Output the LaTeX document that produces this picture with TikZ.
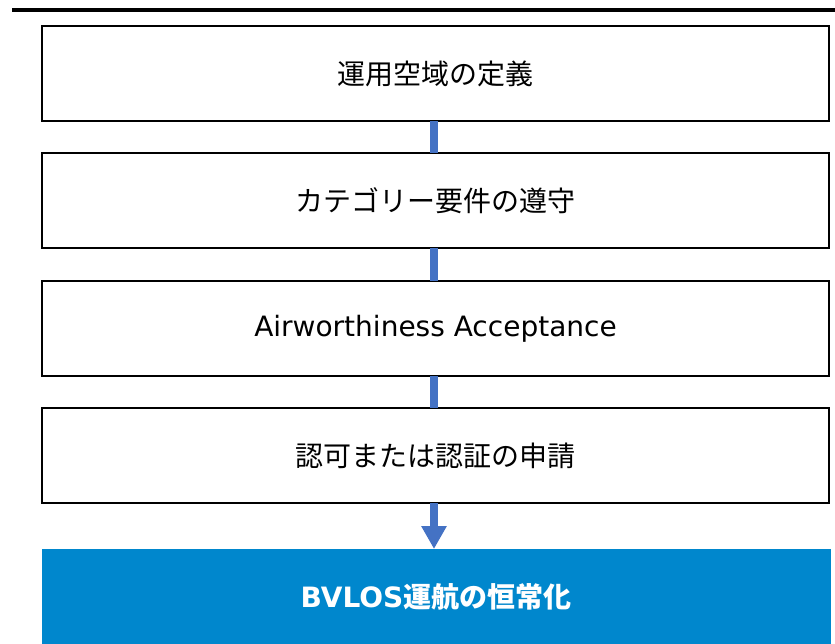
\documentclass[tikz,border=0pt]{standalone}
\usepackage{fontspec}
\setmainfont{DejaVu Sans}
\newfontfamily\jp{Noto Sans CJK JP}
\usetikzlibrary{arrows.meta}
\definecolor{linkblue}{HTML}{4472C4}
\definecolor{goalblue}{HTML}{0087CD}
\tikzset{
  stepbox/.style={draw=black, line width=2.5, fill=white, minimum width=787, minimum height=95, inner sep=0, outer sep=0},
  goalbox/.style={fill=goalblue, minimum width=789, minimum height=96, inner sep=0, outer sep=0, text=white},
  link/.style={draw=linkblue, line width=8},
  jptext/.style={font=\jp\fontsize{28}{32}\selectfont},
}
\begin{document}
\begin{tikzpicture}[x=1pt,y=-1pt]
\useasboundingbox (0,0) rectangle (835,644);
\coordinate (rl) at (12,10);
\coordinate (rr) at (835,10);
\draw[line width=4] (rl) -- (rr);
\node[stepbox, jptext] (b1) at (435.5,73.5) {\raisebox{-1pt}{運用空域の定義}};
\node[stepbox, jptext] (b2) at (435.5,200.5) {\raisebox{-1pt}{カテゴリー要件の遵守}};
\node[stepbox, font=\fontsize{28}{32}\selectfont] (b3) at (435.5,328.5) {Airworthiness Acceptance};
\node[stepbox, jptext] (b4) at (435.5,455.5) {\raisebox{-1pt}{認可または認証の申請}};
\node[goalbox, font=\fontsize{28}{32}\selectfont\bfseries] (g) at (436,597) {BVLOS{\jp\bfseries 運航の恒常化}};
\draw[link] ([xshift=-1.5]b1.south) -- ([xshift=-1.5]b2.north);
\draw[link] ([xshift=-1.5]b2.south) -- ([xshift=-1.5]b3.north);
\draw[link] ([xshift=-1.5]b3.south) -- ([xshift=-1.5]b4.north);
\draw[link, -{Triangle[width=24pt,length=23pt]}] ([xshift=-1.5]b4.south) -- ([xshift=-2]g.north);
\end{tikzpicture}
\end{document}
